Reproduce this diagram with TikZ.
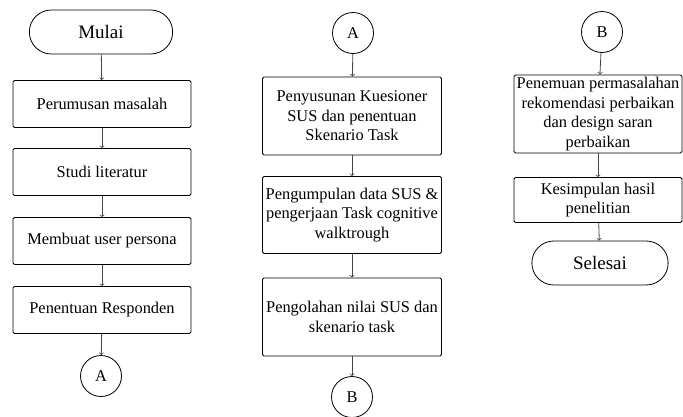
\documentclass[tikz,border=0pt]{standalone}
\usepackage{fontspec}
\setmainfont{Liberation Serif}
\usetikzlibrary{shapes}
\definecolor{panah}{RGB}{70,70,70}

\begin{document}
\begin{tikzpicture}[x=1pt,y=-1pt]
				\tikzset{proses/.style={draw, rectangle, rounded corners=1.5pt, line width=0.8pt, minimum width=178pt, align=center, inner sep=1pt, font=\fontsize{16.4}{19.5}\selectfont},
					terminal/.style={draw, rounded rectangle, line width=0.8pt, minimum height=44pt, font=\fontsize{19}{22}\selectfont},
					konektor/.style={draw, circle, line width=0.8pt, minimum size=41pt, inner sep=0pt, font=\fontsize{16.4}{19.5}\selectfont},
					alur/.style={->, panah, line width=0.8pt}}
				\useasboundingbox (0,0) rectangle (683,416);

				% kolom pertama
				\node[terminal, minimum width=150pt] (mulai) at (101, 32) {Mulai};
				\node[proses, minimum height=47pt] (rumusan) at (102, 104) {Perumusan masalah};
				\node[proses, minimum height=47pt] (studi) at (102, 172) {Studi literatur};
				\node[proses, minimum height=47pt] (persona) at (102, 241) {Membuat user persona};
				\node[proses, minimum height=47pt] (responden) at (102, 310) {Penentuan Responden};
				\node[konektor] (a1) at (101, 376) {A};

				% kolom kedua
				\node[konektor] (a2) at (353, 33) {A};
				\node[proses, minimum width=179pt, minimum height=78pt] (kuesioner) at (352, 116) {Penyusunan Kuesioner\\SUS dan penentuan\\Skenario Task};
				\node[proses, minimum width=179pt, minimum height=77pt] (kumpul) at (352, 215) {Pengumpulan data SUS \&\\pengerjaan Task cognitive\\walktrough};
				\node[proses, minimum width=179pt, minimum height=78pt] (olah) at (352, 317) {Pengolahan nilai SUS dan\\skenario task};
				\node[konektor] (b1) at (352, 397) {B};

				% kolom ketiga
				\node[konektor] (b2) at (602, 32) {B};
				\node[proses, minimum width=168pt, minimum height=78pt] (temuan) at (598, 114) {Penemuan permasalahan\\rekomendasi perbaikan\\dan design saran\\perbaikan};
				\node[proses, minimum width=168pt, minimum height=45pt] (simpul) at (598, 200) {Kesimpulan hasil\\penelitian};
				\node[terminal, minimum width=143pt] (selesai) at (600, 263) {Selesai};

				\draw[alur] (mulai) to[] (rumusan);
				\draw[alur] (rumusan) to[] (studi);
				\draw[alur] (studi) to[] (persona);
				\draw[alur] (persona) to[] (responden);
				\draw[alur] (responden) to[] (a1);
				\draw[alur] (a2) to[] (kuesioner);
				\draw[alur] (kuesioner) to[] (kumpul);
				\draw[alur] (kumpul) to[] (olah);
				\draw[alur] (olah) to[] (b1);
				\draw[alur] (b2) to[] (temuan);
				\draw[alur] (temuan) to[] (simpul);
				\draw[alur] (simpul) to[] (selesai);
			\end{tikzpicture}
\end{document}
